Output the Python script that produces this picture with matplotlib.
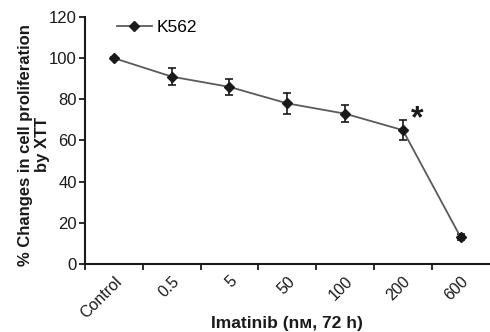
import matplotlib
matplotlib.use("Agg")
import matplotlib.pyplot as plt

plt.rcParams['font.family'] = ['Liberation Sans', 'DejaVu Sans']

categories = ["Control", "0.5", "5", "50", "100", "200", "600"]
values = [100, 91, 86, 78, 73, 65, 13]
errors = [0.5, 4, 4, 5, 4, 5, 1.5]

fig = plt.figure(figsize=(4.9, 3.32), dpi=100)
ax = fig.add_axes([0.1735, 0.205, 0.8255, 0.744])

x = list(range(len(categories)))
ax.plot(x, values, color="#5a5a5a", lw=1.3, marker="D", ms=5,
        mfc="#1a1a1a", mec="#1a1a1a", label="K562", zorder=3)
ax.errorbar(x, values, yerr=errors, fmt="none", ecolor="#1a1a1a",
            elinewidth=1.2, capsize=3, capthick=1.2, zorder=2)

# significance mark next to the 200 nM point
ax.text(x[5] + 0.14, values[5] - 2, "*", fontsize=23, fontweight="bold",
        ha="left", va="bottom", color="#1a1a1a")

ax.set_xlim(-0.5, len(categories) - 0.5)
ax.set_ylim(0, 120)
ax.set_yticks(range(0, 121, 20))
ax.set_xticks([i - 0.5 for i in range(len(categories))])
ax.set_xticklabels([])
ax.set_xticks(x, minor=True)
ax.set_xticklabels(categories, minor=True, rotation=45, ha="right",
                   rotation_mode="anchor", fontsize=11.5, color="#1a1a1a")
ax.tick_params(axis="x", which="minor", length=0, pad=7)
ax.tick_params(axis="x", which="major", length=4, width=1.3, color="#1a1a1a")
ax.tick_params(axis="y", length=4, width=1.3, labelsize=12, color="#1a1a1a",
               labelcolor="#1a1a1a", pad=2)

for s in ["top", "right"]:
    ax.spines[s].set_visible(False)
for s in ["left", "bottom"]:
    ax.spines[s].set_linewidth(1.5)
    ax.spines[s].set_color("#1a1a1a")

ax.set_ylabel("% Changes in cell proliferation\nby XTT", fontsize=12,
              fontweight="bold", color="#1a1a1a", linespacing=1.2,
              ha="center", va="center")
ax.yaxis.set_label_coords(-0.126, 0.482)
ax.set_xlabel("Imatinib (nᴍ, 72 h)", fontsize=12.5, fontweight="bold",
              color="#1a1a1a", va="top")
ax.xaxis.set_label_coords(0.5, -0.212)

ax.legend(loc="upper left", bbox_to_anchor=(0.04, 1.05), frameon=False,
          fontsize=12.5, handlelength=2.0, handletextpad=0.3)

fig.savefig("out.png", dpi=100)
